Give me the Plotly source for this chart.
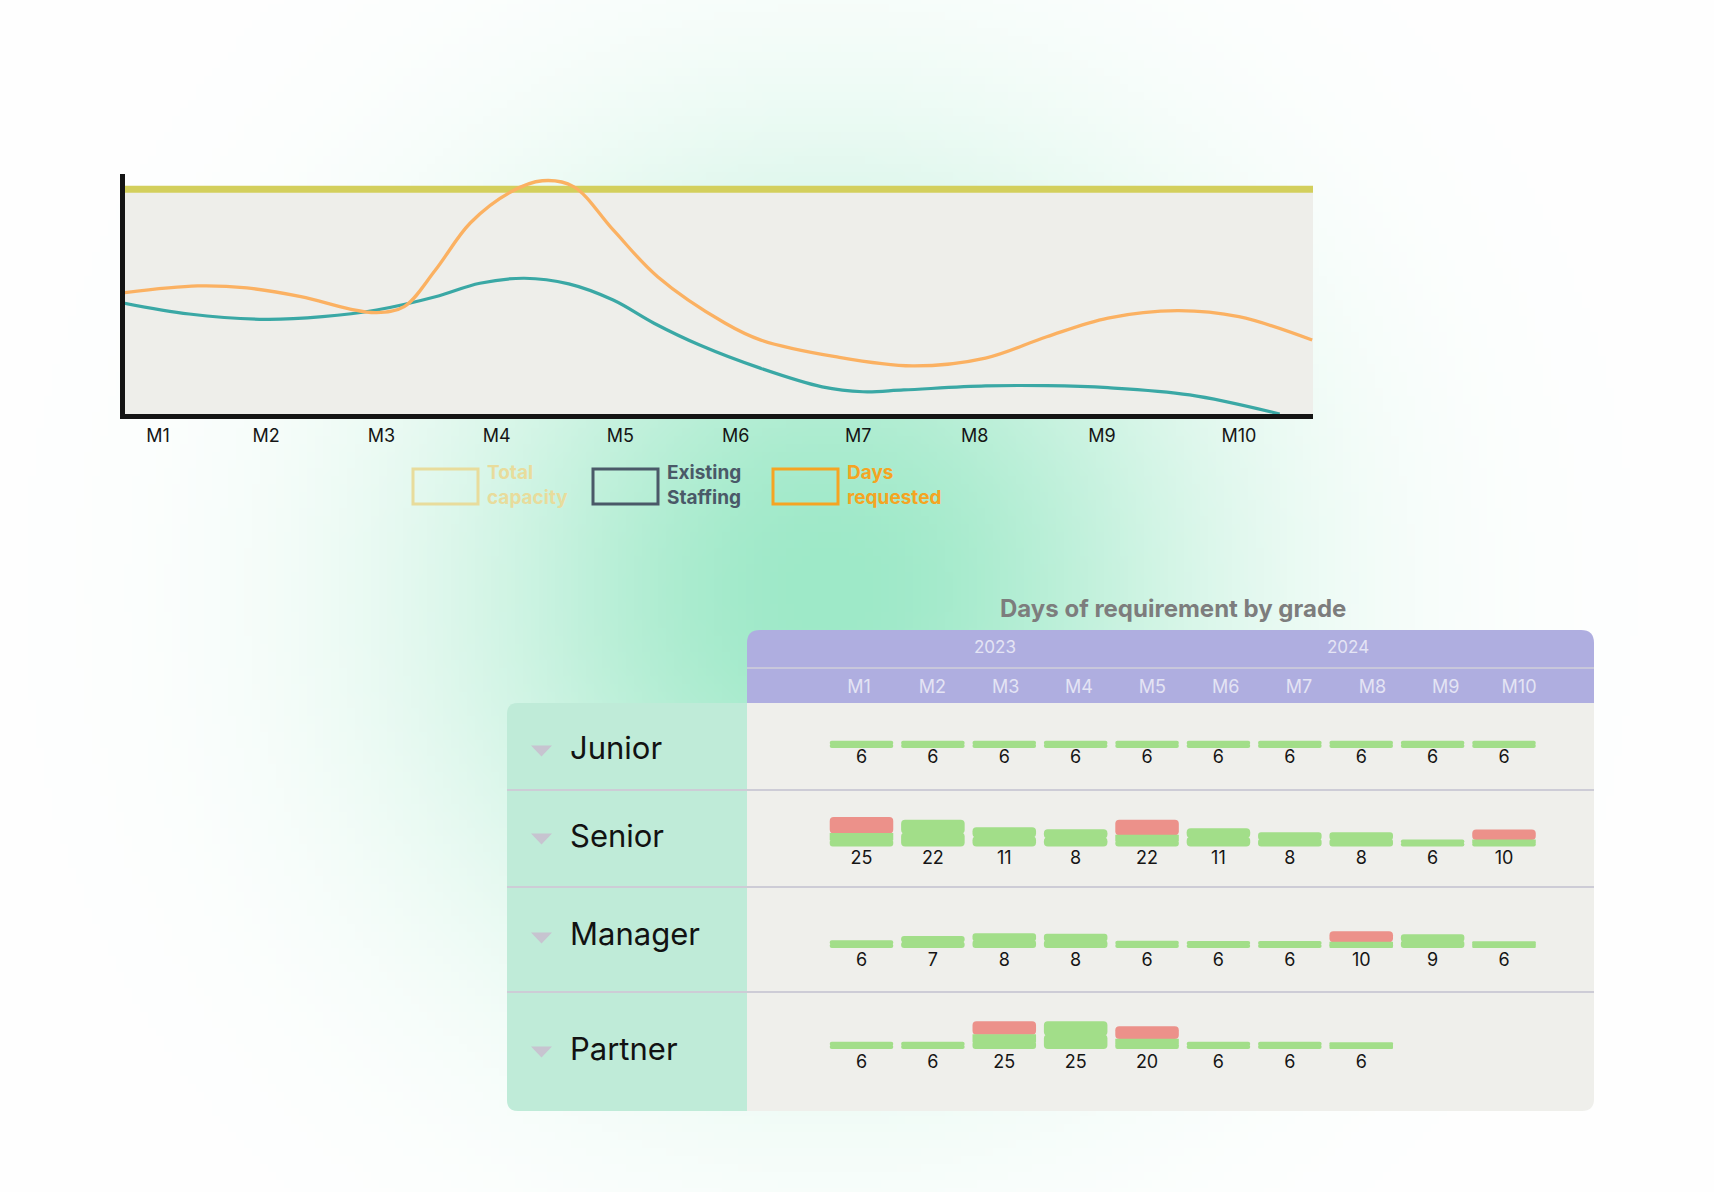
import zlib, struct, base64
import numpy as np
import plotly.graph_objects as go

W, H = 1714, 1192

# ---------------- data : capacity chart ----------------
months = ["M1", "M2", "M3", "M4", "M5", "M6", "M7", "M8", "M9", "M10"]
month_ticks = [1.0, 1.90, 2.86, 3.82, 4.85, 5.81, 6.83, 7.80, 8.86, 10.0]
series_names = ["Total capacity", "Existing Staffing", "Days requested"]
capacity_level = 100
staffing_x = [0.72, 1.26, 1.89, 2.37, 2.82, 3.31, 3.68, 4.05, 4.42, 4.79, 5.13,
              5.51, 6.02, 6.53, 6.87, 7.21, 7.89, 8.40, 8.91, 9.59, 10.34]
staffing_y = [49.3, 44.5, 42.1, 43.3, 46.3, 52.2, 58.2, 60.4, 57.9, 50.7, 40.4,
              30.7, 20.3, 12.1, 9.9, 10.7, 12.5, 12.6, 11.7, 8.5, 0.0]
requested_x = [0.72, 1.33, 1.74, 2.19, 2.60, 2.82, 3.05, 3.31, 3.60, 3.94, 4.20,
               4.46, 4.79, 5.16, 5.72, 6.02, 6.64, 7.28, 7.89, 8.40, 8.91,
               9.49, 10.00, 10.61]
requested_y = [54.0, 57.0, 56.1, 52.2, 46.7, 45.1, 47.8, 64.1, 85.0, 98.9, 103.8,
               101.2, 81.9, 61.1, 40.5, 32.9, 25.5, 21.4, 24.9, 34.4, 42.7,
               46.0, 43.3, 32.9]

# ---------------- data : requirement table ----------------
table_title = "Days of requirement by grade"
years = ["2023", "2024"]
grades = ["Junior", "Senior", "Manager", "Partner"]
days_junior = [6, 6, 6, 6, 6, 6, 6, 6, 6, 6]
days_senior = [25, 22, 11, 8, 22, 11, 8, 8, 6, 10]
days_manager = [6, 7, 8, 8, 6, 6, 6, 10, 9, 6]
days_partner = [6, 6, 25, 25, 20, 6, 6, 6, None, None]
staffed_junior = [6.3, 6.3, 6.3, 6.3, 6.3, 6.3, 6.3, 6.3, 6.3, 6.3]
short_junior = [0, 0, 0, 0, 0, 0, 0, 0, 0, 0]
staffed_senior = [11.7, 23.2, 16.8, 15.0, 10.2, 15.9, 12.4, 12.4, 6.1, 6.1]
short_senior = [13.9, 0, 0, 0, 13.0, 0, 0, 0, 0, 8.7]
staffed_manager = [6.7, 10.4, 12.8, 12.4, 6.3, 6.1, 6.1, 5.5, 11.9, 5.8]
short_manager = [0, 0, 0, 0, 0, 0, 0, 9.0, 0, 0]
staffed_partner = [6.3, 6.3, 12.8, 24.1, 9.0, 6.3, 6.3, 5.8, None, None]
short_partner = [0, 0, 11.3, 0, 10.7, 0, 0, 0, None, None]

# ---------------- styling ----------------
FONT = "Inter, Lato, 'Noto Sans', sans-serif"
TEAL = "#3aa8a5"
ORANGE = "#fbb162"
OLIVE = "#d3cf5c"
GREEN = "#a2de89"
RED = "#ec918a"
PURPLE = "#afaee0"
MINT = "#bfebd8"
BODY = "#efefeb"


def fx(x):
    return x / W


def fy(y):
    return 1 - y / H


def rrect(x0, y0, x1, y1, tl=0, tr=0, br=0, bl=0):
    p = lambda x, y: f"{fx(x):.6f},{fy(y):.6f}"
    s = f"M {p(x0 + tl, y0)} L {p(x1 - tr, y0)} Q {p(x1, y0)} {p(x1, y0 + tr)} "
    s += f"L {p(x1, y1 - br)} Q {p(x1, y1)} {p(x1 - br, y1)} "
    s += f"L {p(x0 + bl, y1)} Q {p(x0, y1)} {p(x0, y1 - bl)} "
    s += f"L {p(x0, y0 + tl)} Q {p(x0, y0)} {p(x0 + tl, y0)} Z"
    return s


def png_uri(rgb):
    h, w, _ = rgb.shape
    raw = b"".join(b"\x00" + rgb[i].tobytes() for i in range(h))

    def chunk(t, d):
        return struct.pack(">I", len(d)) + t + d + struct.pack(">I", zlib.crc32(t + d) & 0xFFFFFFFF)

    png = b"\x89PNG\r\n\x1a\n" + chunk(b"IHDR", struct.pack(">IIBBBBB", w, h, 8, 2, 0, 0, 0))
    png += chunk(b"IDAT", zlib.compress(raw, 9)) + chunk(b"IEND", b"")
    return "data:image/png;base64," + base64.b64encode(png).decode()


# background glow (decoration)
gw, gh = 215, 149
gx = (np.arange(gw) + 0.5) * W / gw
gy = (np.arange(gh) + 0.5) * H / gh
XX, YY = np.meshgrid(gx, gy)
d = np.hypot(XX - 830, YY - 590)
f = np.exp(-0.5 * (d / 265.0) ** 2)[..., None]
mint_c = np.array([158, 233, 200], dtype=float)
img = (255 * (1 - f) + mint_c * f).clip(0, 255).astype(np.uint8)
glow_uri = png_uri(img)

fig = go.Figure()

# ---------------- capacity chart ----------------
xr = [0.7252, 10.617]
fig.add_trace(go.Scatter(x=xr, y=[capacity_level] * 2, mode="lines",
                         line=dict(color=OLIVE, width=7), hoverinfo="skip", showlegend=False))
fig.add_trace(go.Scatter(x=staffing_x, y=staffing_y, mode="lines",
                         line=dict(color=TEAL, width=3.2, shape="spline", smoothing=1.0),
                         name=series_names[1], showlegend=False))
fig.add_trace(go.Scatter(x=requested_x, y=requested_y, mode="lines",
                         line=dict(color=ORANGE, width=3.3, shape="spline", smoothing=1.0),
                         name=series_names[2], showlegend=False))

fig.update_layout(
    xaxis=dict(domain=[fx(125), fx(1313)], range=xr, tickvals=month_ticks, ticktext=months,
               showgrid=False, zeroline=False, showline=True, linecolor="#141414", linewidth=5,
               ticks="", ticklabelstandoff=1, tickfont=dict(family=FONT, size=18, color="#151515"),
               fixedrange=True),
    yaxis=dict(domain=[fy(414), fy(174)], range=[0, 106.8], showgrid=False, zeroline=False,
               showline=True, linecolor="#141414", linewidth=5, showticklabels=False, ticks="",
               fixedrange=True),
)

shapes = []
shapes.append(dict(type="rect", xref="x domain", yref="y", x0=0, x1=1, y0=0, y1=capacity_level,
                   fillcolor="#eeeeea", line=dict(width=0), layer="below"))

# legend boxes
legend_cols = ["#e8dc9c", "#4a5968", "#f5a422"]
legend_x = [413, 593, 773]
annotations = []
for name, col, x0 in zip(series_names, legend_cols, legend_x):
    shapes.append(dict(type="rect", xref="paper", yref="paper", x0=fx(x0), x1=fx(x0 + 65),
                       y0=fy(504), y1=fy(469), line=dict(color=col, width=3), fillcolor="rgba(0,0,0,0)"))
    a, b = name.split(" ", 1)
    annotations.append(dict(xref="paper", yref="paper", x=fx(x0 + 72), y=fy(485), xanchor="left",
                            yanchor="middle", align="left", showarrow=False,
                            text=f"<b>{a}<br>{b}</b>", font=dict(family=FONT, size=19, color=col)))

# ---------------- table ----------------
TL, TR, TT, TB = 507, 1594, 630, 1111
HL = 747
shapes.append(dict(type="path", xref="paper", yref="paper", path=rrect(HL, TT, TR, 703, tl=13, tr=13),
                   fillcolor=PURPLE, line=dict(width=0), layer="below"))
shapes.append(dict(type="line", xref="paper", yref="paper", x0=fx(HL), x1=fx(TR), y0=fy(668), y1=fy(668),
                   line=dict(color="#c8c7db", width=2), layer="below"))
shapes.append(dict(type="path", xref="paper", yref="paper", path=rrect(TL, 703, HL, TB, tl=11, bl=11),
                   fillcolor=MINT, line=dict(width=0), layer="below"))
shapes.append(dict(type="path", xref="paper", yref="paper", path=rrect(HL, 703, TR, TB, br=12),
                   fillcolor=BODY, line=dict(width=0), layer="below"))
for yl in [790, 887, 992]:
    shapes.append(dict(type="line", xref="paper", yref="paper", x0=fx(TL), x1=fx(TR), y0=fy(yl), y1=fy(yl),
                       line=dict(color="#cdccd6", width=2), layer="below"))

annotations.append(dict(xref="paper", yref="paper", x=fx(1173), y=fy(608), xanchor="center",
                        yanchor="middle", showarrow=False,
                        text=f"<b>{table_title}</b>", font=dict(family=FONT, size=24, color="#7d7d7d")))
for yr, xpos in zip(years, [995, 1348]):
    annotations.append(dict(xref="paper", yref="paper", x=fx(xpos), y=fy(647), xanchor="center",
                            yanchor="middle", showarrow=False,
                            text=yr, font=dict(family=FONT, size=17, color="#e4e4f4")))

# rows geometry: top, bottom, baseline, label-centre, value-label offset
rows = [(703, 790, 748, 747, 10), (790, 887, 846.5, 835, 12.5),
        (887, 992, 948, 934, 13.5), (992, 1111, 1049, 1048, 14)]
S = 1.15  # px per unit
OV = 0.5  # overlap between pieces of one bar
row_data = [(days_junior, staffed_junior, short_junior), (days_senior, staffed_senior, short_senior),
            (days_manager, staffed_manager, short_manager), (days_partner, staffed_partner, short_partner)]

layout_axes = {}
layout_axes["xaxis2"] = dict(domain=[fx(825.8), fx(1539.7)], range=[-0.5, 9.5], type="category",
                             categoryorder="array", categoryarray=months, visible=False, anchor="y2",
                             fixedrange=True)
for k, ((top, bot, base, lab_y, off), (vals, g, r), gname) in enumerate(zip(rows, row_data, grades)):
    ax = k + 2
    layout_axes[f"yaxis{ax}"] = dict(domain=[fy(bot), fy(top)], range=[-(bot - base) / S, (base - top) / S],
                                     visible=False, anchor="x2", fixedrange=True)
    yref = f"y{ax}"
    low_base = [None if v is None else v / 2 + OV for v in g]
    low = [None if v is None else -(v / 2 + OV) for v in g]
    up_base = [None if v is None else v / 2 - OV for v in g]
    up = [None if v is None else v / 2 + OV for v in g]
    up_plain = [u if (u is not None and not rr) else None for u, rr in zip(up, r)]
    up_join = [u if (u is not None and rr) else None for u, rr in zip(up, r)]
    red_base = [None if (v is None or not rr) else v - 0.4 for v, rr in zip(g, r)]
    red = [rr + 0.4 if rr else None for rr in r]
    fig.add_trace(go.Bar(x=months, y=red, base=red_base, xaxis="x2", yaxis=yref, showlegend=False,
                         marker=dict(color=RED, cornerradius=4, line=dict(width=0)), hoverinfo="skip"))
    fig.add_trace(go.Bar(x=months, y=low, base=low_base, xaxis="x2", yaxis=yref, showlegend=False,
                         marker=dict(color=GREEN, cornerradius=4, line=dict(width=0)), hoverinfo="skip"))
    fig.add_trace(go.Bar(x=months, y=up_plain, base=up_base, xaxis="x2", yaxis=yref, showlegend=False,
                         marker=dict(color=GREEN, cornerradius=4, line=dict(width=0)), hoverinfo="skip"))
    fig.add_trace(go.Bar(x=months, y=up_join, base=up_base, xaxis="x2", yaxis=yref, showlegend=False,
                         marker=dict(color=GREEN, cornerradius=0, line=dict(width=0)), hoverinfo="skip"))
    fig.add_trace(go.Scatter(x=months, y=[-off / S] * len(months), mode="text", xaxis="x2", yaxis=yref,
                             text=["" if v is None else str(v) for v in vals], textposition="middle center",
                             textfont=dict(family=FONT, size=18, color="#151515"), showlegend=False,
                             hoverinfo="skip", cliponaxis=False))
    annotations.append(dict(xref="paper", yref="paper", x=fx(568), y=fy(lab_y), xanchor="left",
                            yanchor="middle", showarrow=False, text=gname,
                            font=dict(family=FONT, size=31, color="#121212")))
    ty = lab_y + 4
    tri = (f"M {fx(531):.6f},{fy(ty - 5.5):.6f} L {fx(552):.6f},{fy(ty - 5.5):.6f} "
           f"L {fx(541.5):.6f},{fy(ty + 5.5):.6f} Z")
    shapes.append(dict(type="path", xref="paper", yref="paper", path=tri, fillcolor="#c7c4d0",
                       line=dict(width=0)))

# month header row
layout_axes["xaxis3"] = dict(domain=[fx(822.3), fx(1555.7)], range=[-0.5, 9.5], type="category",
                             categoryorder="array", categoryarray=months, visible=False, anchor="y6",
                             fixedrange=True)
layout_axes["yaxis6"] = dict(domain=[fy(703), fy(668)], range=[0, 1], visible=False, anchor="x3",
                             fixedrange=True)
fig.add_trace(go.Scatter(x=months, y=[0.42] * len(months), text=months, mode="text", xaxis="x3", yaxis="y6",
                         textfont=dict(family=FONT, size=18, color="#e4e4f4"), showlegend=False,
                         hoverinfo="skip", cliponaxis=False))

fig.update_layout(**layout_axes)
fig.update_layout(
    width=W, height=H, margin=dict(l=0, r=0, t=0, b=0), autosize=False,
    paper_bgcolor="white", plot_bgcolor="rgba(0,0,0,0)",
    barmode="overlay", bargap=0.11,
    shapes=shapes, annotations=annotations, showlegend=False,
    images=[dict(source=glow_uri, xref="paper", yref="paper", x=0, y=1, sizex=1, sizey=1,
                 sizing="stretch", xanchor="left", yanchor="top", layer="below")],
    font=dict(family=FONT),
)

fig.write_html("out.html", config={"displayModeBar": False})
